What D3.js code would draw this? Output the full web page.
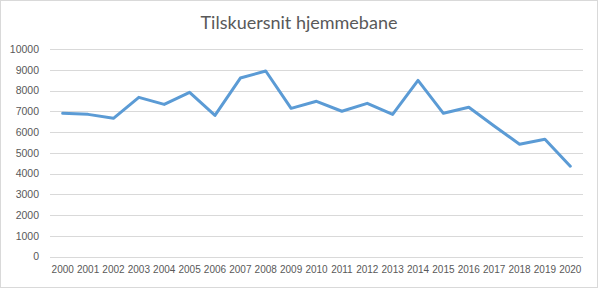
<!DOCTYPE html>
<html><head><meta charset="utf-8">
<script src="https://cdn.jsdelivr.net/npm/d3@7"></script>
<style>
html,body{margin:0;padding:0;background:#fff;}
svg{display:block;}
</style></head>
<body>
<svg id="chart" width="598" height="288"></svg>
<script>
const title = "Tilskuersnit hjemmebane";
const years = ["2000","2001","2002","2003","2004","2005","2006","2007","2008","2009","2010","2011","2012","2013","2014","2015","2016","2017","2018","2019","2020"];
const values = [6900,6850,6660,7670,7330,7910,6800,8600,8940,7140,7480,7000,7380,6850,8490,6900,7190,6290,5410,5650,4350];
const yTicks = [0,1000,2000,3000,4000,5000,6000,7000,8000,9000,10000];

const W = 598, H = 288;
const margin = {left: 50, right: 15, top: 49, bottom: 31.5};
const svg = d3.select("#chart");

svg.append("rect").attr("x",0.5).attr("y",0.5).attr("width",W-1).attr("height",H-1)
  .attr("fill","#fff").attr("stroke","#d9d9d9");

const x = d3.scaleBand().domain(years).range([margin.left, W - margin.right]);
const y = d3.scaleLinear().domain([0,10000]).range([H - margin.bottom, margin.top]);

const fontFam = "'Liberation Sans', Arial, sans-serif";

// gridlines
svg.append("g").selectAll("line").data(yTicks).join("line")
  .attr("x1", margin.left).attr("x2", W - margin.right)
  .attr("y1", d => Math.round(y(d)) + 0.5).attr("y2", d => Math.round(y(d)) + 0.5)
  .attr("stroke", "#d9d9d9").attr("stroke-width", 1);

// y axis labels
const yAxis = d3.axisLeft(y).tickValues(yTicks).tickSize(0).tickPadding(0).tickFormat(d3.format("d"));
const gy = svg.append("g").attr("transform", `translate(39,0)`).call(yAxis);
gy.select(".domain").remove();
gy.selectAll("text").attr("fill","#595959").attr("font-size","10.5px").attr("font-family",fontFam);

// x axis labels
const xAxis = d3.axisBottom(x).tickSize(0).tickPadding(0);
const gx = svg.append("g").attr("transform", `translate(0,${H - margin.bottom + 9})`).call(xAxis);
gx.select(".domain").remove();
gx.selectAll("text").attr("fill","#595959").attr("font-size","10px").attr("font-family",fontFam);

// line
const line = d3.line().x((d,i) => x(years[i]) + x.bandwidth()/2).y(d => y(d));
svg.append("path").datum(values).attr("d", line)
  .attr("fill","none").attr("stroke","#5b9bd5").attr("stroke-width",3)
  .attr("stroke-linejoin","round").attr("stroke-linecap","round");

// title
svg.append("text").attr("x", W/2).attr("y", 29).attr("text-anchor","middle")
  .attr("fill","#595959").attr("font-size","18px").attr("font-family","Lato, sans-serif")
  .text(title);
</script>
</body></html>
